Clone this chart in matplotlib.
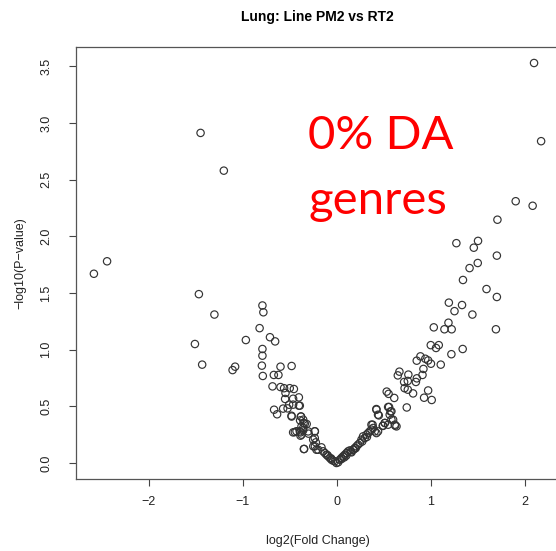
import matplotlib
matplotlib.use('Agg')
import matplotlib.pyplot as plt

# log2 fold change / -log10 p-value
log2_fc = [
    # left arm
    -2.58, -2.44, -1.447, -1.20, -1.465, -1.30, -0.79, -0.78, -0.82, -0.966,
    -0.71, -0.655, -1.507, -0.79, -0.79, -1.43, -1.107, -1.08, -0.796, -0.598,
    -0.48, -0.786, -0.669, -0.62, -0.683, -0.598, -0.56, -0.50, -0.456, -0.545,
    -0.549, -0.464, -0.403, -0.506, -0.403, -0.666, -0.634, -0.57, -0.523, -0.48,
    -0.38, -0.39, -0.353, -0.32, -0.357, -0.464, -0.428, -0.386, -0.386, -0.30,
    -0.234, -0.234, -0.347, -0.25, -0.216,
    # bottom of the V
    -0.464, -0.393, -0.481, -0.382, -0.357, -0.34, -0.375, -0.357, -0.393, -0.446,
    -0.304, -0.233, -0.375, -0.35, -0.251, -0.223, -0.233, -0.198, -0.163, -0.145,
    -0.127, -0.11, -0.092, -0.074, -0.057, -0.039, -0.004, 0.014, 0.032, 0.049,
    0.067, 0.085, 0.103, 0.12, 0.138, 0.156, 0.173, 0.191, 0.209, 0.226,
    0.244, 0.262, 0.279, 0.297, 0.315, 0.333, 0.35, 0.368, 0.386, 0.403,
    0.421, 0.438, 0.368, 0.421, 0.438, 0.545, 0.58, 0.562, 0.598, 0.51,
    0.492, 0.545, 0.616, 0.634, -0.10, -0.02, 0.05, 0.10, 0.15, 0.18,
    0.20, 0.27, 0.32, -0.06, 0.08,
    # right arm
    2.095, 2.17, 1.90, 2.08, 1.706, 1.27, 1.50, 1.455, 1.70, 1.497,
    1.41, 1.34, 1.59, 1.70, 1.19, 1.33, 1.25, 1.44, 1.03, 1.186,
    1.143, 1.22, 1.69, 0.998, 1.083, 1.054, 1.217, 1.337, 1.104, 0.888,
    0.849, 0.94, 0.97, 1.00, 0.92, 0.665, 0.648, 0.76, 0.91, 0.85,
    0.715, 0.754, 0.84, 0.72, 0.754, 0.81, 0.97, 0.53, 0.55, 0.61,
    0.927, 1.008, 0.743, 0.42, 0.446, 0.555, 0.57, 0.58, 0.62, 0.488,
    0.51, 0.38,
]
neg_log10_p = [
    # left arm
    1.67, 1.78, 2.913, 2.58, 1.49, 1.31, 1.39, 1.33, 1.19, 1.085,
    1.11, 1.073, 1.05, 1.006, 0.947, 0.868, 0.82, 0.85, 0.859, 0.85,
    0.856, 0.768, 0.777, 0.777, 0.676, 0.67, 0.66, 0.66, 0.653, 0.618,
    0.565, 0.567, 0.579, 0.514, 0.506, 0.47, 0.43, 0.48, 0.482, 0.41,
    0.41, 0.376, 0.353, 0.344, 0.309, 0.27, 0.28, 0.27, 0.241, 0.259,
    0.28, 0.22, 0.124, 0.147, 0.117,
    # bottom of the V
    0.515, 0.506, 0.417, 0.41, 0.382, 0.347, 0.323, 0.288, 0.279, 0.273,
    0.279, 0.279, 0.25, 0.123, 0.206, 0.182, 0.147, 0.117, 0.138, 0.103,
    0.088, 0.073, 0.059, 0.044, 0.029, 0.02, 0.0, 0.006, 0.029, 0.044,
    0.059, 0.073, 0.088, 0.103, 0.111, 0.094, 0.117, 0.132, 0.147, 0.162,
    0.176, 0.206, 0.235, 0.22, 0.25, 0.264, 0.279, 0.294, 0.309, 0.279,
    0.264, 0.279, 0.338, 0.47, 0.426, 0.494, 0.456, 0.426, 0.382, 0.353,
    0.33, 0.338, 0.338, 0.323, 0.07, 0.015, 0.035, 0.065, 0.10, 0.12,
    0.13, 0.19, 0.23, 0.04, 0.05,
    # right arm
    3.53, 2.84, 2.31, 2.27, 2.147, 1.94, 1.96, 1.90, 1.83, 1.765,
    1.72, 1.615, 1.535, 1.465, 1.415, 1.394, 1.34, 1.31, 1.197, 1.238,
    1.18, 1.18, 1.18, 1.04, 1.04, 1.015, 0.96, 1.006, 0.868, 0.941,
    0.903, 0.92, 0.905, 0.876, 0.83, 0.806, 0.773, 0.78, 0.777, 0.747,
    0.715, 0.724, 0.715, 0.66, 0.647, 0.614, 0.64, 0.63, 0.61, 0.574,
    0.576, 0.556, 0.49, 0.476, 0.42, 0.494, 0.455, 0.382, 0.33, 0.327,
    0.353, 0.338,
]

x_ticks = [-2, -1, 0, 1, 2]
y_ticks = [0.0, 0.5, 1.0, 1.5, 2.0, 2.5, 3.0, 3.5]

plt.rcParams['font.family'] = ['Liberation Sans', 'DejaVu Sans']

fig = plt.figure(figsize=(5.56, 5.51), dpi=100)
# box runs slightly past the right edge, like the cropped original
ax = fig.add_axes([0.1367, 0.1307, 0.8687, 0.784])

ax.scatter(log2_fc, neg_log10_p, s=28, facecolors='none',
           edgecolors='#333333', linewidths=0.85)

# R style: 4% padding around the data range
xmin, xmax = min(log2_fc), max(log2_fc)
ymin, ymax = min(neg_log10_p), max(neg_log10_p)
xpad = 0.04 * (xmax - xmin)
ypad = 0.04 * (ymax - ymin)
ax.set_xlim(xmin - xpad, xmax + xpad)
ax.set_ylim(ymin - ypad, ymax + ypad)

ax.set_xticks(x_ticks)
ax.set_yticks(y_ticks)
ax.set_xticklabels([str(t).replace('-', '\u2212') for t in x_ticks])
ax.set_yticklabels([f'{t:.1f}' for t in y_ticks], rotation=90, va='center')
ax.tick_params(axis='both', direction='out', length=5, width=0.8,
               color='#444444', labelsize=9, labelcolor='#222222')
ax.tick_params(axis='x', pad=7)
ax.tick_params(axis='y', pad=12)
for side in ax.spines.values():
    side.set_linewidth(0.9)
    side.set_color('#555555')

ax.set_xlabel('log2(Fold Change)', fontsize=9, color='#222222', labelpad=20)
ax.set_ylabel('\u2212log10(P\u2212value)', fontsize=9, color='#222222', labelpad=10)
ax.set_title('Lung: Line PM2 vs RT2', fontsize=10, fontweight='bold', pad=19)

# red overlay annotation
fig.text(308 / 556, 1 - 149 / 551, '0% DA', color='red', fontsize=34,
         family='Lato', va='baseline', ha='left')
fig.text(308 / 556, 1 - 214 / 551, 'genres', color='red', fontsize=34,
         family='Lato', va='baseline', ha='left')

fig.savefig('out.png', dpi=100)
